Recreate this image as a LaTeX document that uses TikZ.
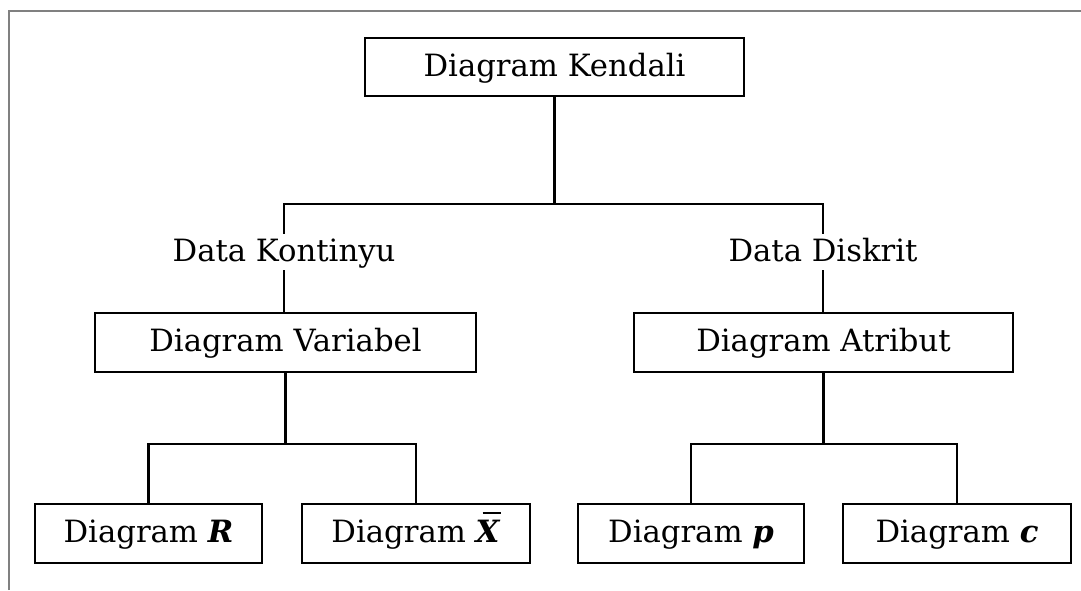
\documentclass[tikz,border=0pt]{standalone}
\usepackage{fontspec}
\setmainfont{DejaVu Serif}
\newcommand\xbarsym{\textbf{\textit{X}}\llap{\rule[29pt]{18pt}{1.8pt}\kern0pt}}
\begin{document}
\begin{tikzpicture}[x=1pt,y=-1pt,
  txt/.style={font=\fontsize{30.7}{36}\selectfont, text height=24pt, text depth=6pt},
  box/.style={txt, draw=black, line width=2.2pt, rectangle, inner sep=0pt, minimum height=59pt},
  lbl/.style={txt, inner sep=3pt},
  conn/.style={draw=black, line width=2.2pt},
  frame/.style={draw=black!50, line width=2.5pt}]
\useasboundingbox (0,0) rectangle (1081,590);
\draw[frame] (9,590) -- (9,11) -- (1081,11);

\node[box, minimum width=379pt, minimum height=58pt] (kendali) at (554.5,67) {Diagram Kendali};
\node[lbl] (kontinyu) at (284,252) {Data Kontinyu};
\node[lbl] (diskrit) at (823,252) {Data Diskrit};
\node[box, minimum width=381pt] (variabel) at (285.5,342.5) {Diagram Variabel};
\node[box, minimum width=379pt] (atribut) at (823.5,342.5) {Diagram Atribut};
\node[box, minimum width=227pt] (boxR) at (148.5,533.5) {Diagram \textbf{\textit{R}}};
\node[box, minimum width=228pt] (boxX) at (416,533.5) {Diagram \xbarsym};
\node[box, minimum width=226pt] (boxP) at (691,533.5) {Diagram \textbf{\textit{p}}};
\node[box, minimum width=228pt] (boxC) at (957,533.5) {Diagram \textbf{\textit{c}}};

\coordinate (jtop) at (554.5,204);
\coordinate (jleft) at (285.5,444);
\coordinate (jright) at (823.5,444);

\draw[conn] (kendali.south) -- (jtop);
\draw[conn] (kontinyu.north) -- (kontinyu.north |- jtop) -- (diskrit.north |- jtop) -- (diskrit.north);
\draw[conn] (kontinyu.south) -- (variabel.north -| kontinyu.south);
\draw[conn] (diskrit.south) -- (atribut.north -| diskrit.south);

\draw[conn] (variabel.south) -- (jleft);
\draw[conn] (boxR.north) -- (boxR.north |- jleft) -- (boxX.north |- jleft) -- (boxX.north);
\draw[conn] (atribut.south) -- (jright);
\draw[conn] (boxP.north) -- (boxP.north |- jright) -- (boxC.north |- jright) -- (boxC.north);
\end{tikzpicture}
\end{document}
